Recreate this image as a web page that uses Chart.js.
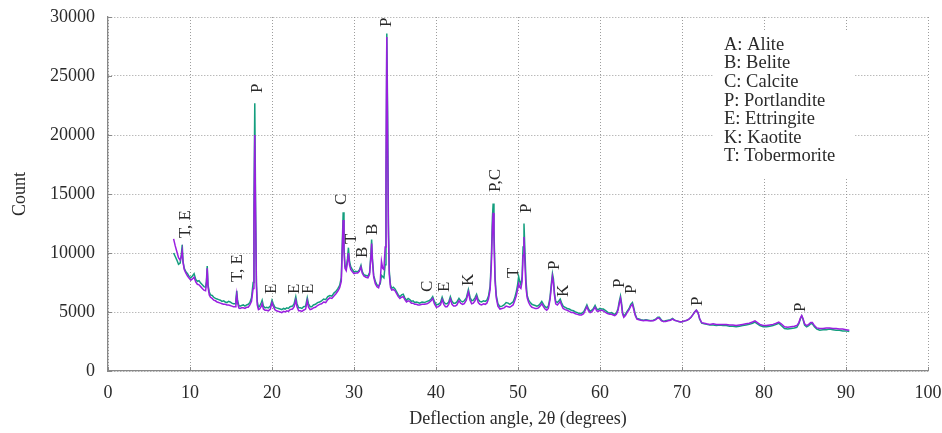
<!DOCTYPE html>
<html>
<head>
<meta charset="utf-8">
<script src="https://cdn.jsdelivr.net/npm/chart.js@4/dist/chart.umd.min.js"></script>
<style>
  html, body { margin: 0; padding: 0; background: #fff; }
  canvas { display: block; background: #fff; }
</style>
</head>
<body>
<canvas id="c" width="942" height="433"></canvas>
<script>
// Deflection angle 2θ (degrees)
const angle = [
  8.0, 8.2, 8.4, 8.6, 8.8, 8.95, 9.05, 9.15, 9.3, 9.5,
  9.7, 9.9, 10.1, 10.3, 10.5, 10.7, 10.9, 11.1, 11.3, 11.5,
  11.7, 11.9, 12.0, 12.1, 12.2, 12.35, 12.5, 12.7, 12.9, 13.1,
  13.3, 13.5, 13.7, 13.9, 14.1, 14.3, 14.5, 14.7, 14.9, 15.1,
  15.3, 15.5, 15.6, 15.7, 15.8, 15.95, 16.1, 16.3, 16.5, 16.7,
  16.9, 17.1, 17.3, 17.5, 17.7, 17.8, 17.9, 18.0, 18.1, 18.2,
  18.35, 18.5, 18.7, 18.8, 18.95, 19.15, 19.35, 19.55, 19.8, 20.0,
  20.15, 20.35, 20.55, 20.8, 21.0, 21.2, 21.4, 21.6, 21.8, 22.0,
  22.2, 22.5, 22.7, 22.9, 23.05, 23.25, 23.45, 23.65, 23.85, 24.1,
  24.3, 24.45, 24.65, 24.85, 25.05, 25.3, 25.55, 25.8, 26.05, 26.3,
  26.55, 26.8, 27.05, 27.3, 27.55, 27.8, 28.05, 28.25, 28.45, 28.6,
  28.68, 28.78, 28.9, 29.05, 29.2, 29.32, 29.45, 29.6, 29.8, 30.0,
  30.2, 30.45, 30.65, 30.85, 31.0, 31.2, 31.45, 31.7, 31.9, 32.05,
  32.15, 32.25, 32.4, 32.6, 32.8, 33.0, 33.2, 33.35, 33.5, 33.65,
  33.8, 33.9, 34.0, 34.1, 34.2, 34.3, 34.45, 34.6, 34.8, 35.0,
  35.2, 35.4, 35.6, 35.8, 36.0, 36.2, 36.4, 36.6, 36.8, 37.0,
  37.2, 37.4, 37.6, 37.8, 38.0, 38.3, 38.6, 38.9, 39.15, 39.4,
  39.6, 39.8, 40.05, 40.3, 40.55, 40.75, 40.95, 41.15, 41.35, 41.55,
  41.75, 41.95, 42.15, 42.35, 42.55, 42.8, 43.0, 43.25, 43.45, 43.7,
  43.95, 44.15, 44.35, 44.55, 44.75, 44.95, 45.15, 45.35, 45.55, 45.8,
  46.0, 46.2, 46.4, 46.6, 46.75, 46.88, 46.97, 47.07, 47.2, 47.35,
  47.55, 47.8, 48.05, 48.3, 48.55, 48.8, 49.0, 49.2, 49.4, 49.6,
  49.8, 49.95, 50.08, 50.2, 50.35, 50.5, 50.62, 50.73, 50.85, 50.98,
  51.12, 51.3, 51.5, 51.7, 51.9, 52.1, 52.3, 52.5, 52.7, 52.9,
  53.1, 53.3, 53.5, 53.7, 53.9, 54.05, 54.2, 54.32, 54.45, 54.6,
  54.8, 55.0, 55.15, 55.3, 55.5, 55.75, 56.0, 56.25, 56.5, 56.75,
  57.0, 57.25, 57.5, 57.75, 58.0, 58.2, 58.4, 58.6, 58.8, 59.0,
  59.2, 59.4, 59.6, 59.8, 60.0, 60.2, 60.4, 60.6, 60.8, 61.0,
  61.2, 61.4, 61.6, 61.8, 62.0, 62.2, 62.35, 62.5, 62.62, 62.75,
  62.9, 63.1, 63.3, 63.55, 63.75, 63.95, 64.1, 64.3, 64.5, 64.75,
  65.0, 65.3, 65.6, 65.9, 66.2, 66.5, 66.8, 67.05, 67.25, 67.5,
  67.75, 68.0, 68.3, 68.6, 68.85, 69.1, 69.35, 69.6, 69.85, 70.1,
  70.35, 70.6, 70.85, 71.1, 71.35, 71.55, 71.75, 71.95, 72.15, 72.4,
  72.7, 73.0, 73.4, 73.8, 74.2, 74.6, 75.0, 75.4, 75.8, 76.2,
  76.6, 77.0, 77.4, 77.8, 78.2, 78.6, 78.9, 79.2, 79.5, 79.9,
  80.3, 80.7, 81.1, 81.5, 81.8, 82.1, 82.5, 82.9, 83.3, 83.7,
  84.0, 84.25, 84.45, 84.6, 84.75, 84.95, 85.2, 85.45, 85.7, 85.9,
  86.15, 86.45, 86.8, 87.2, 87.6, 88.0, 88.4, 88.8, 89.2, 89.6,
  90.0, 90.4
];

// Green series counts
const countGreen = [
  10000, 9700, 9400, 9050, 9150, 9900, 10700, 9300, 8700, 8400,
  8250, 8000, 7900, 8050, 8250, 7750, 7600, 7650, 7450, 7300,
  7150, 7100, 7600, 8900, 7300, 6700, 6450, 6400, 6250, 6150,
  6100, 6050, 6000, 5900, 5950, 5850, 5800, 5900, 5850, 5750,
  5700, 5700, 6100, 6800, 6000, 5550, 5500, 5550, 5600, 5500,
  5600, 5650, 5800, 6200, 7500, 14000, 22700, 14000, 7500, 5900,
  5400, 5500, 5800, 6000, 5500, 5350, 5400, 5350, 5500, 6000,
  5700, 5400, 5350, 5300, 5250, 5200, 5300, 5250, 5350, 5300,
  5450, 5500, 5700, 6300, 5700, 5350, 5350, 5300, 5450, 5500,
  6200, 5700, 5450, 5450, 5600, 5650, 5800, 5850, 5950, 6100,
  6050, 6300, 6400, 6350, 6600, 6750, 7000, 7250, 7900, 11500,
  13450, 10500, 8900, 8700, 9500, 10450, 9300, 8850, 8600, 8400,
  8450, 8400, 8550, 8950, 8450, 8150, 8100, 8050, 8350, 9800,
  11150, 9500, 8100, 7600, 7300, 7200, 7400, 8100, 8000, 7900,
  9000, 14000, 28600, 22000, 12500, 8500, 7300, 7000, 7100, 6950,
  6700, 6450, 6300, 6450, 6500, 6200, 6000, 6150, 6050, 5900,
  5950, 5800, 5850, 5800, 5750, 5850, 5800, 5900, 5950, 6100,
  6300, 5900, 5600, 5650, 5800, 6250, 5850, 5700, 5700, 5850,
  6300, 5900, 5750, 5750, 5850, 6150, 5950, 5850, 5950, 6200,
  6900, 6250, 5950, 6000, 6200, 6500, 6050, 5900, 5850, 5950,
  5900, 6000, 6350, 7200, 9500, 13000, 14200, 12000, 8000, 6400,
  5700, 5450, 5500, 5600, 5800, 5750, 5650, 5750, 5850, 6200,
  6750, 7300, 8000, 7600, 7300, 8000, 10500, 12500, 10000, 7600,
  6400, 6000, 5800, 5650, 5600, 5550, 5500, 5550, 5700, 5900,
  5650, 5450, 5350, 5500, 6200, 7300, 8250, 7800, 6600, 5900,
  5800, 5950, 6100, 5800, 5500, 5400, 5300, 5250, 5150, 5100,
  5000, 4950, 4850, 4900, 5000, 5300, 5600, 5250, 5050, 5150,
  5300, 5550, 5250, 5200, 5300, 5250, 5250, 5150, 5050, 4950,
  4900, 4950, 4850, 4800, 4900, 5300, 5900, 6350, 5800, 5000,
  4650, 4800, 5050, 5300, 5650, 5800, 5400, 4800, 4450, 4400,
  4350, 4300, 4350, 4300, 4250, 4300, 4400, 4550, 4550, 4300,
  4200, 4250, 4300, 4350, 4450, 4300, 4250, 4200, 4150, 4200,
  4250, 4300, 4400, 4550, 4800, 5000, 5150, 4950, 4400, 4050,
  4000, 3950, 3900, 3900, 3850, 3900, 3850, 3850, 3800, 3800,
  3750, 3800, 3850, 3900, 3950, 4050, 4150, 4000, 3850, 3750,
  3750, 3800, 3850, 3950, 4050, 3850, 3600, 3550, 3600, 3650,
  3700, 4000, 4450, 4650, 4400, 3900, 3750, 3850, 4000, 4000,
  3750, 3550, 3450, 3500, 3500, 3550, 3500, 3450, 3450, 3400,
  3400, 3350
];

// Purple series counts
const countPurple = [
  11200, 10600, 10100, 9600, 9400, 9700, 10200, 9200, 8600, 8300,
  8050, 7850, 7700, 7800, 7950, 7550, 7350, 7300, 7150, 7000,
  6850, 6800, 7400, 8700, 7100, 6450, 6250, 6150, 6000, 5950,
  5850, 5800, 5750, 5700, 5650, 5650, 5600, 5600, 5550, 5500,
  5450, 5450, 5900, 6500, 5800, 5350, 5300, 5350, 5350, 5300,
  5400, 5400, 5600, 5900, 7000, 12500, 20000, 13000, 7200, 5600,
  5200, 5250, 5500, 5700, 5250, 5150, 5150, 5100, 5250, 5800,
  5500, 5200, 5100, 5050, 5000, 4950, 5050, 5000, 5100, 5050,
  5200, 5250, 5450, 6000, 5450, 5100, 5100, 5050, 5150, 5250,
  5950, 5400, 5200, 5250, 5350, 5400, 5550, 5650, 5700, 5850,
  5800, 6050, 6200, 6150, 6350, 6550, 6800, 7050, 7600, 11000,
  12800, 10200, 8700, 8500, 9200, 10000, 9000, 8600, 8400, 8250,
  8300, 8300, 8450, 8800, 8300, 8050, 7950, 7900, 8200, 9500,
  10800, 9300, 7950, 7400, 7150, 7050, 7600, 9300, 8700, 8600,
  10500, 17000, 28300, 20000, 11500, 8200, 7100, 6850, 6900, 6800,
  6550, 6300, 6150, 6250, 6300, 6050, 5850, 5950, 5900, 5750,
  5750, 5650, 5650, 5600, 5600, 5650, 5650, 5700, 5800, 5950,
  6150, 5700, 5400, 5450, 5600, 6050, 5650, 5450, 5450, 5650,
  6100, 5650, 5500, 5500, 5600, 5950, 5750, 5650, 5700, 6000,
  6700, 6000, 5700, 5750, 5950, 6300, 5800, 5650, 5600, 5700,
  5650, 5750, 6100, 6900, 9000, 12200, 13400, 11200, 7600, 6200,
  5500, 5250, 5300, 5350, 5500, 5450, 5400, 5500, 5600, 5950,
  6400, 6900, 7400, 7100, 7000, 7600, 9800, 11350, 9000, 7000,
  6200, 5800, 5550, 5400, 5350, 5300, 5300, 5350, 5500, 5700,
  5450, 5250, 5150, 5300, 6000, 7000, 8000, 7500, 6400, 5700,
  5600, 5750, 5900, 5600, 5300, 5200, 5150, 5050, 4950, 4950,
  4850, 4800, 4750, 4750, 4850, 5150, 5450, 5100, 4950, 5000,
  5200, 5400, 5100, 5050, 5150, 5150, 5100, 5000, 4900, 4850,
  4800, 4800, 4750, 4700, 4800, 5150, 5700, 6150, 5600, 4850,
  4550, 4700, 4950, 5200, 5500, 5650, 5250, 4700, 4400, 4350,
  4300, 4250, 4300, 4250, 4250, 4250, 4350, 4500, 4450, 4250,
  4200, 4200, 4250, 4300, 4400, 4300, 4250, 4200, 4150, 4200,
  4250, 4300, 4400, 4550, 4800, 5000, 5150, 4950, 4450, 4100,
  4050, 4000, 3950, 4000, 3950, 3950, 3950, 3950, 3900, 3900,
  3850, 3900, 3950, 4000, 4050, 4150, 4250, 4100, 3950, 3850,
  3850, 3900, 3950, 4050, 4150, 4000, 3750, 3700, 3750, 3800,
  3850, 4100, 4500, 4700, 4450, 4000, 3850, 3950, 4100, 4100,
  3850, 3650, 3600, 3600, 3650, 3650, 3600, 3600, 3550, 3550,
  3500, 3450
];

// Peak annotations (phase letters) and where they sit
const peakText  = ['T, E', 'T, E', 'P', 'E', 'E', 'E', 'C', 'T', 'B', 'B', 'P', 'C', 'E', 'K', 'P,C', 'T', 'P', 'P', 'K', 'P', 'P', 'P', 'P'];
const peakAngle = [9.4, 15.85, 18.2, 20.0, 22.8, 24.4, 28.5, 29.75, 31.1, 32.2, 34.0, 39.0, 41.1, 44.0, 47.3, 49.4, 51.0, 54.5, 55.6, 62.4, 63.9, 71.95, 84.5];
const peakCount = [11270, 7540, 23560, 6530, 6530, 6530, 14070, 10760, 9580, 11530, 29150, 6700, 6700, 7200, 15170, 7880, 13390, 8560, 6270, 7030, 6530, 5510, 5000];

// Phase key
const phaseKey = ['A: Alite', 'B: Belite', 'C: Calcite', 'P: Portlandite', 'E: Ettringite', 'K: Kaotite', 'T: Tobermorite'];

// Axis ticks
const xMin = 0, xMax = 100, xStep = 10;
const yMin = 0, yMax = 30000, yStep = 5000;

const FONT = '"Liberation Serif", "DejaVu Serif", serif';
const TEXT = '#2a2a2a';
const GREEN = 'rgba(0,150,115,0.92)';
const PURPLE = '#9a1fe0';

const toXY = (xs, ys) => xs.map((x, i) => ({ x: x, y: ys[i] }));

function noAutoPadding(s) {
  s.paddingLeft = 0; s.paddingRight = 0; s.paddingTop = 0; s.paddingBottom = 0;
}

const decor = {
  id: 'decor',
  beforeDatasetsDraw(chart) {
    const { ctx, chartArea } = chart;
    // white box behind the phase key
    ctx.save();
    ctx.fillStyle = '#fff';
    ctx.fillRect(chartArea.left + 605, chartArea.top + 15, 142, 146);
    ctx.restore();
  },
  afterDatasetsDraw(chart) {
    const { ctx, chartArea, scales: { x, y } } = chart;
    ctx.save();
    // inward tick marks
    ctx.strokeStyle = '#888';
    ctx.lineWidth = 1;
    ctx.beginPath();
    for (let v = xMin; v <= xMax; v += xStep) {
      const px = Math.round(x.getPixelForValue(v)) + 0.5;
      ctx.moveTo(px, chartArea.bottom);
      ctx.lineTo(px, chartArea.bottom - 4);
    }
    for (let v = yMin; v <= yMax; v += yStep) {
      const py = Math.round(y.getPixelForValue(v)) + 0.5;
      ctx.moveTo(chartArea.left, py);
      ctx.lineTo(chartArea.left + 4, py);
    }
    ctx.stroke();

    // peak labels, rotated
    ctx.fillStyle = TEXT;
    ctx.font = '17px ' + FONT;
    ctx.textAlign = 'left';
    ctx.textBaseline = 'middle';
    for (let i = 0; i < peakText.length; i++) {
      const px = x.getPixelForValue(peakAngle[i]);
      const py = y.getPixelForValue(peakCount[i]);
      ctx.save();
      ctx.translate(px, py);
      ctx.rotate(-Math.PI / 2);
      ctx.fillText(peakText[i], 0, 0);
      ctx.restore();
    }

    // phase key
    ctx.font = '18.5px ' + FONT;
    ctx.textBaseline = 'middle';
    const lx = chartArea.left + 616;
    for (let i = 0; i < phaseKey.length; i++) {
      ctx.fillText(phaseKey[i], lx, chartArea.top + 28 + i * 18.6);
    }
    ctx.restore();
  }
};

new Chart(document.getElementById('c'), {
  type: 'line',
  data: {
    datasets: [
      { label: 'Sample 2', data: toXY(angle, countPurple), borderColor: PURPLE, borderWidth: 1.5, pointRadius: 0, tension: 0, fill: false },
      { label: 'Sample 1', data: toXY(angle, countGreen), borderColor: GREEN, borderWidth: 1.5, pointRadius: 0, tension: 0, fill: false }
    ]
  },
  options: {
    responsive: false,
    animation: false,
    layout: { padding: { top: 17, right: 14, left: 0, bottom: 0 } },
    plugins: { legend: { display: false }, tooltip: { enabled: false } },
    scales: {
      x: {
        type: 'linear', min: xMin, max: xMax,
        ticks: { stepSize: xStep, color: TEXT, font: { family: FONT, size: 18 }, padding: 11, maxRotation: 0,
                 callback: (v) => String(v) },
        grid: { color: 'rgba(140,140,140,0.85)', lineWidth: 1, drawTicks: false },
        border: { color: '#888', width: 1.3, dash: [1, 2] },
        title: { display: true, text: 'Deflection angle, 2θ (degrees)', color: TEXT, font: { family: FONT, size: 18 }, padding: { top: 0, bottom: 3 } },
        afterFit(s) { s.height = 62; noAutoPadding(s); }
      },
      y: {
        min: yMin, max: yMax,
        ticks: { stepSize: yStep, color: TEXT, font: { family: FONT, size: 18 }, padding: 13,
                 callback: (v) => String(v) },
        grid: { color: 'rgba(140,140,140,0.85)', lineWidth: 1, drawTicks: false },
        border: { color: '#888', width: 1.3, dash: [1, 2] },
        title: { display: true, text: 'Count', color: TEXT, font: { family: FONT, size: 18 }, padding: { top: 9, bottom: 0 } },
        afterFit(s) { s.width = 108; noAutoPadding(s); }
      }
    }
  },
  plugins: [decor]
});
</script>
</body>
</html>
